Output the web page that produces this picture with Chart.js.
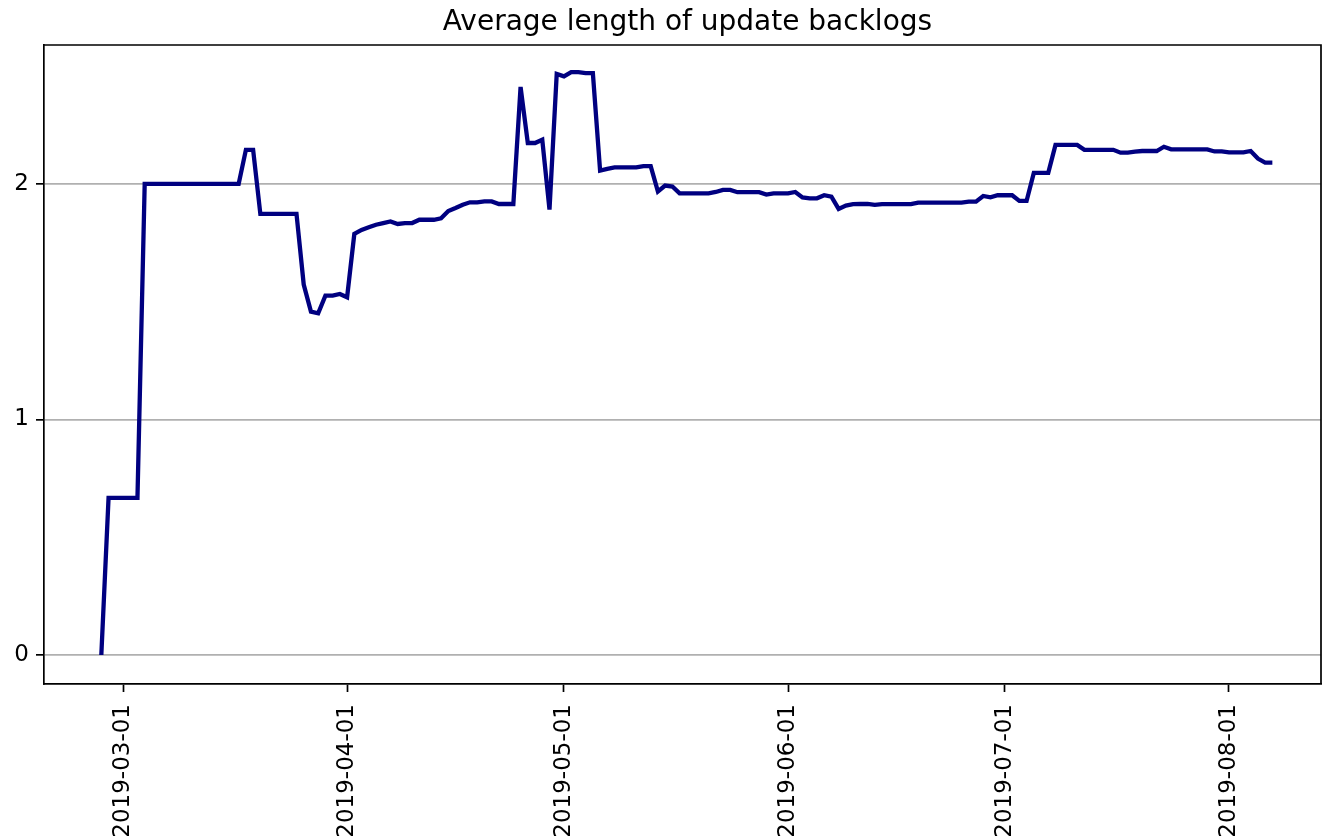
<!DOCTYPE html>
<html><head><meta charset="utf-8">
<script src="https://cdn.jsdelivr.net/npm/chart.js@4/dist/chart.umd.min.js"></script>
<style>html,body{margin:0;padding:0;background:#fff;}#wrap{width:1322px;height:838px;position:relative;}</style>
</head><body><div id="wrap"><canvas id="c" width="1322" height="838"></canvas></div>
<script>
const chartTitle = 'Average length of update backlogs';
const dates = [
'2019-02-26','2019-02-27','2019-02-28',
'2019-03-01','2019-03-02','2019-03-03','2019-03-04','2019-03-05','2019-03-06','2019-03-07','2019-03-08','2019-03-09','2019-03-10',
'2019-03-11','2019-03-12','2019-03-13','2019-03-14','2019-03-15','2019-03-16','2019-03-17','2019-03-18','2019-03-19','2019-03-20',
'2019-03-21','2019-03-22','2019-03-23','2019-03-24','2019-03-25','2019-03-26','2019-03-27','2019-03-28','2019-03-29','2019-03-30','2019-03-31',
'2019-04-01','2019-04-02','2019-04-03','2019-04-04','2019-04-05','2019-04-06','2019-04-07','2019-04-08','2019-04-09','2019-04-10',
'2019-04-11','2019-04-12','2019-04-13','2019-04-14','2019-04-15','2019-04-16','2019-04-17','2019-04-18','2019-04-19','2019-04-20',
'2019-04-21','2019-04-22','2019-04-23','2019-04-24','2019-04-25','2019-04-26','2019-04-27','2019-04-28','2019-04-29','2019-04-30',
'2019-05-01','2019-05-02','2019-05-03','2019-05-04','2019-05-05','2019-05-06','2019-05-07','2019-05-08','2019-05-09','2019-05-10',
'2019-05-11','2019-05-12','2019-05-13','2019-05-14','2019-05-15','2019-05-16','2019-05-17','2019-05-18','2019-05-19','2019-05-20',
'2019-05-21','2019-05-22','2019-05-23','2019-05-24','2019-05-25','2019-05-26','2019-05-27','2019-05-28','2019-05-29','2019-05-30','2019-05-31',
'2019-06-01','2019-06-02','2019-06-03','2019-06-04','2019-06-05','2019-06-06','2019-06-07','2019-06-08','2019-06-09','2019-06-10',
'2019-06-11','2019-06-12','2019-06-13','2019-06-14','2019-06-15','2019-06-16','2019-06-17','2019-06-18','2019-06-19','2019-06-20',
'2019-06-21','2019-06-22','2019-06-23','2019-06-24','2019-06-25','2019-06-26','2019-06-27','2019-06-28','2019-06-29','2019-06-30',
'2019-07-01','2019-07-02','2019-07-03','2019-07-04','2019-07-05','2019-07-06','2019-07-07','2019-07-08','2019-07-09','2019-07-10',
'2019-07-11','2019-07-12','2019-07-13','2019-07-14','2019-07-15','2019-07-16','2019-07-17','2019-07-18','2019-07-19','2019-07-20',
'2019-07-21','2019-07-22','2019-07-23','2019-07-24','2019-07-25','2019-07-26','2019-07-27','2019-07-28','2019-07-29','2019-07-30','2019-07-31',
'2019-08-01','2019-08-02','2019-08-03','2019-08-04','2019-08-05','2019-08-06','2019-08-07'
];
const values = [
0, 0.667, 0.667,
0.667, 0.667, 0.667, 2.0, 2.0, 2.0, 2.0, 2.0, 2.0, 2.0,
2.0, 2.0, 2.0, 2.0, 2.0, 2.0, 2.0, 2.145, 2.145, 1.873,
1.873, 1.873, 1.873, 1.873, 1.873, 1.573, 1.458, 1.451, 1.526, 1.526, 1.533,
1.519, 1.788, 1.805, 1.816, 1.827, 1.834, 1.841, 1.830, 1.834, 1.834,
1.848, 1.848, 1.848, 1.854, 1.885, 1.898, 1.912, 1.922, 1.922, 1.926,
1.926, 1.915, 1.915, 1.915, 2.412, 2.174, 2.174, 2.188, 1.891, 2.467,
2.457, 2.475, 2.475, 2.471, 2.471, 2.057, 2.064, 2.070, 2.070, 2.070,
2.070, 2.076, 2.076, 1.968, 1.993, 1.989, 1.960, 1.960, 1.960, 1.960,
1.960, 1.966, 1.975, 1.975, 1.965, 1.965, 1.965, 1.965, 1.955, 1.960, 1.960,
1.960, 1.966, 1.943, 1.939, 1.939, 1.952, 1.946, 1.894, 1.908, 1.914,
1.915, 1.915, 1.911, 1.914, 1.914, 1.914, 1.914, 1.914, 1.921, 1.921,
1.921, 1.921, 1.921, 1.921, 1.921, 1.925, 1.925, 1.949, 1.943, 1.952,
1.952, 1.952, 1.928, 1.928, 2.047, 2.047, 2.047, 2.166, 2.166, 2.166,
2.166, 2.145, 2.145, 2.145, 2.145, 2.145, 2.133, 2.133, 2.137, 2.140,
2.140, 2.140, 2.158, 2.147, 2.147, 2.147, 2.147, 2.147, 2.147, 2.138, 2.138,
2.134, 2.134, 2.134, 2.140, 2.108, 2.091, 2.091
];
const xTickDates = ['2019-03-01','2019-04-01','2019-05-01','2019-06-01','2019-07-01','2019-08-01'];
const yTickValues = [0, 1, 2];

const DAY = 86400000;
const toMs = s => new Date(s + 'T00:00:00Z').getTime();
const fmt = v => new Date(v).toISOString().slice(0, 10);
const points = dates.map((d, i) => ({ x: toMs(d), y: values[i] }));
const xRef = toMs('2019-03-01');
const FONT = 'DejaVu Sans';

const framePlugin = {
  id: 'frame',
  afterDraw(chart) {
    const { ctx, chartArea: a } = chart;
    ctx.save();
    ctx.strokeStyle = '#000';
    ctx.lineWidth = 1.7;
    ctx.beginPath();
    ctx.moveTo(a.left, a.top); ctx.lineTo(a.right, a.top); ctx.lineTo(a.right, a.bottom);
    ctx.stroke();
    // title centred over the axes area
    ctx.fillStyle = '#000';
    ctx.font = 'normal 28px "' + FONT + '"';
    ctx.textAlign = 'center';
    ctx.textBaseline = 'middle';
    ctx.fillText(chartTitle, (a.left + a.right) / 2 + 5, 22.5);
    ctx.restore();
  }
};

new Chart(document.getElementById('c'), {
  type: 'line',
  data: { datasets: [{ data: points, borderColor: '#000080', borderWidth: 4.3, pointRadius: 0, tension: 0, fill: false }] },
  options: {
    responsive: false, animation: false, devicePixelRatio: 1,
    layout: { padding: { left: 0, right: 1, top: 45, bottom: 0 } },
    plugins: {
      legend: { display: false }, tooltip: { enabled: false },
      title: { display: false }
    },
    scales: {
      x: {
        type: 'linear',
        min: xRef - 10.93 * DAY, max: xRef + 165.73 * DAY,
        afterBuildTicks: s => { s.ticks = xTickDates.map(d => ({ value: toMs(d) })); },
        afterFit: s => { s.height = 154; s.paddingLeft = 0; s.paddingRight = 0; },
        ticks: { autoSkip: false, minRotation: 90, maxRotation: 90, color: '#000', padding: 12, font: { family: FONT, size: 23 }, callback: v => fmt(v) },
        grid: { drawOnChartArea: false, drawTicks: true, tickLength: 8, tickColor: '#000', tickWidth: 1.7 },
        border: { display: true, color: '#000', width: 1.7 }
      },
      y: {
        type: 'linear',
        min: -0.1231, max: 2.590,
        afterBuildTicks: s => { s.ticks = yTickValues.map(v => ({ value: v })); },
        afterFit: s => { s.width = 44; s.paddingTop = 0; s.paddingBottom = 0; },
        ticks: { color: '#000', padding: 7, font: { family: FONT, size: 23 }, callback: v => String(v) },
        grid: { color: '#b0b0b0', lineWidth: 1.7, drawTicks: true, tickLength: 8, tickColor: '#000', tickWidth: 1.7 },
        border: { display: true, color: '#000', width: 1.7 }
      }
    }
  },
  plugins: [framePlugin]
});
</script>
</body></html>
